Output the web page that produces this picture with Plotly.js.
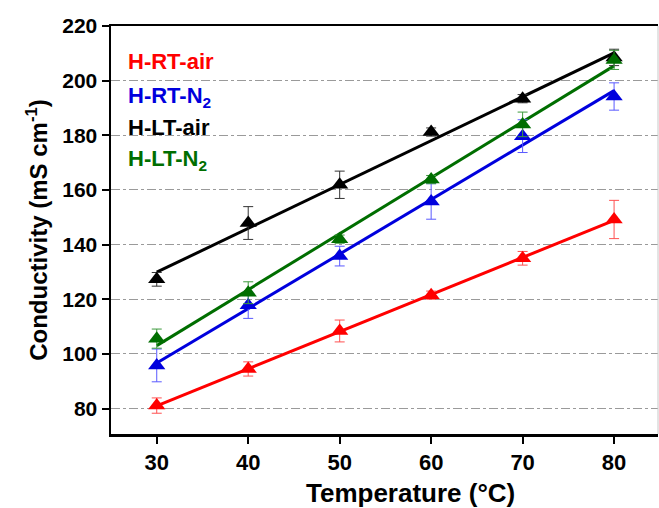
<!DOCTYPE html>
<html>
<head>
<meta charset="utf-8">
<script src="https://cdn.plot.ly/plotly-3.0.1.min.js"></script>
<style>html,body{margin:0;padding:0;background:#fff;}#chart{width:659px;height:508px;}</style>
</head>
<body>
<div id="chart"></div>
<script>
// Data
var temperature = [30, 40, 50, 60, 70, 80];
var seriesNames = ['H-RT-air', 'H-RT-N<sub>2</sub>', 'H-LT-air', 'H-LT-N<sub>2</sub>'];
var rtAir = [81.1, 94.5, 108.4, 121.5, 135.0, 149.2];
var rtAirErr = [2.8, 2.6, 4.0, 1.5, 2.5, 7.0];
var rtN2 = [95.8, 117.8, 135.8, 155.8, 179.7, 194.2];
var rtN2Err = [6.0, 4.8, 3.6, 6.5, 6.0, 5.0];
var ltAir = [127.3, 147.9, 161.9, 181.2, 193.4, 208.5];
var ltAirErr = [2.5, 6.0, 5.0, 1.5, 1.5, 3.0];
var ltN2 = [105.6, 122.4, 142.0, 163.8, 184.0, 207.6];
var ltN2Err = [3.5, 4.0, 1.5, 1.5, 4.5, 3.5];
var yTicks = [80, 100, 120, 140, 160, 180, 200, 220];
var xTicks = [30, 40, 50, 60, 70, 80];
var xTitle = 'Temperature (°C)';
var yTitle = 'Conductivity (mS cm<sup>-1</sup>)';

var colors = ['#ff0000', '#0000dd', '#000000', '#006e00'];
var errColors = ['#ff5050', '#5a5aff', '#333333', '#3c9a3c'];
var allY = [rtAir, rtN2, ltAir, ltN2];
var allErr = [rtAirErr, rtN2Err, ltAirErr, ltN2Err];

function fit(xs, ys) {
  var n = xs.length, mx = 0, my = 0;
  for (var i = 0; i < n; i++) { mx += xs[i]; my += ys[i]; }
  mx /= n; my /= n;
  var sxy = 0, sxx = 0;
  for (var j = 0; j < n; j++) { sxy += (xs[j] - mx) * (ys[j] - my); sxx += (xs[j] - mx) * (xs[j] - mx); }
  var b = sxy / sxx, a = my - b * mx;
  var x0 = Math.min.apply(null, xs), x1 = Math.max.apply(null, xs);
  return {x: [x0, x1], y: [a + b * x0, a + b * x1]};
}

var traces = [];
for (var k = 0; k < 4; k++) {
  var f = fit(temperature, allY[k]);
  traces.push({x: f.x, y: f.y, mode: 'lines', type: 'scatter', showlegend: false,
    line: {color: colors[k], width: 3}, hoverinfo: 'skip'});
}
for (var m = 0; m < 4; m++) {
  traces.push({x: temperature, y: allY[m], mode: 'markers', type: 'scatter', showlegend: false,
    name: seriesNames[m],
    marker: {symbol: 'triangle-up', size: 15, color: colors[m]},
    error_y: {type: 'data', array: allErr[m], visible: true, color: errColors[m], thickness: 1, width: 5}});
}

var legendY = [0.912, 0.826, 0.752, 0.672];
var annotations = [];
for (var q = 0; q < 4; q++) {
  annotations.push({xref: 'paper', yref: 'paper', x: 0.028, y: legendY[q], xanchor: 'left', yanchor: 'middle',
    text: seriesNames[q], showarrow: false,
    font: {family: 'Liberation Sans, Arial, sans-serif', size: 22, color: colors[q], weight: 'bold'}});
}
annotations.push({xref: 'paper', yref: 'paper', x: 0.548, y: -0.145, xanchor: 'center', yanchor: 'middle',
  text: xTitle, showarrow: false,
  font: {family: 'Liberation Sans, Arial, sans-serif', size: 26, color: '#000', weight: 'bold'}});

var layout = {
  width: 659, height: 508,
  margin: {l: 111, r: 1, t: 26, b: 74},
  paper_bgcolor: '#ffffff', plot_bgcolor: '#ffffff',
  font: {family: 'Liberation Sans, Arial, sans-serif', color: '#000'},
  xaxis: {
    range: [25, 84.8], tickvals: xTicks, ticks: 'outside', ticklen: 7, tickwidth: 2, tickcolor: '#000',
    showline: true, linewidth: 2.5, linecolor: '#000', mirror: true, showgrid: false, zeroline: false,
    tickfont: {size: 22, weight: 'bold'}
  },
  yaxis: {
    range: [70.7, 220], tickvals: yTicks, ticks: 'outside', ticklen: 7, tickwidth: 2, tickcolor: '#000',
    showline: true, linewidth: 2.5, linecolor: '#000', mirror: false, zeroline: false,
    showgrid: true, gridcolor: '#9a9a9a', griddash: 'dashdot', gridwidth: 1,
    tickfont: {size: 21, weight: 'bold'},
    title: {text: yTitle, font: {size: 24, weight: 'bold'}, standoff: 8}
  },
  shapes: [{type: 'line', xref: 'paper', yref: 'paper', x0: 1, x1: 1, y0: 0, y1: 1,
    line: {color: '#c8c8c8', width: 1}}],
  annotations: annotations
};

Plotly.newPlot('chart', traces, layout, {displayModeBar: false, staticPlot: true});
</script>
</body>
</html>
